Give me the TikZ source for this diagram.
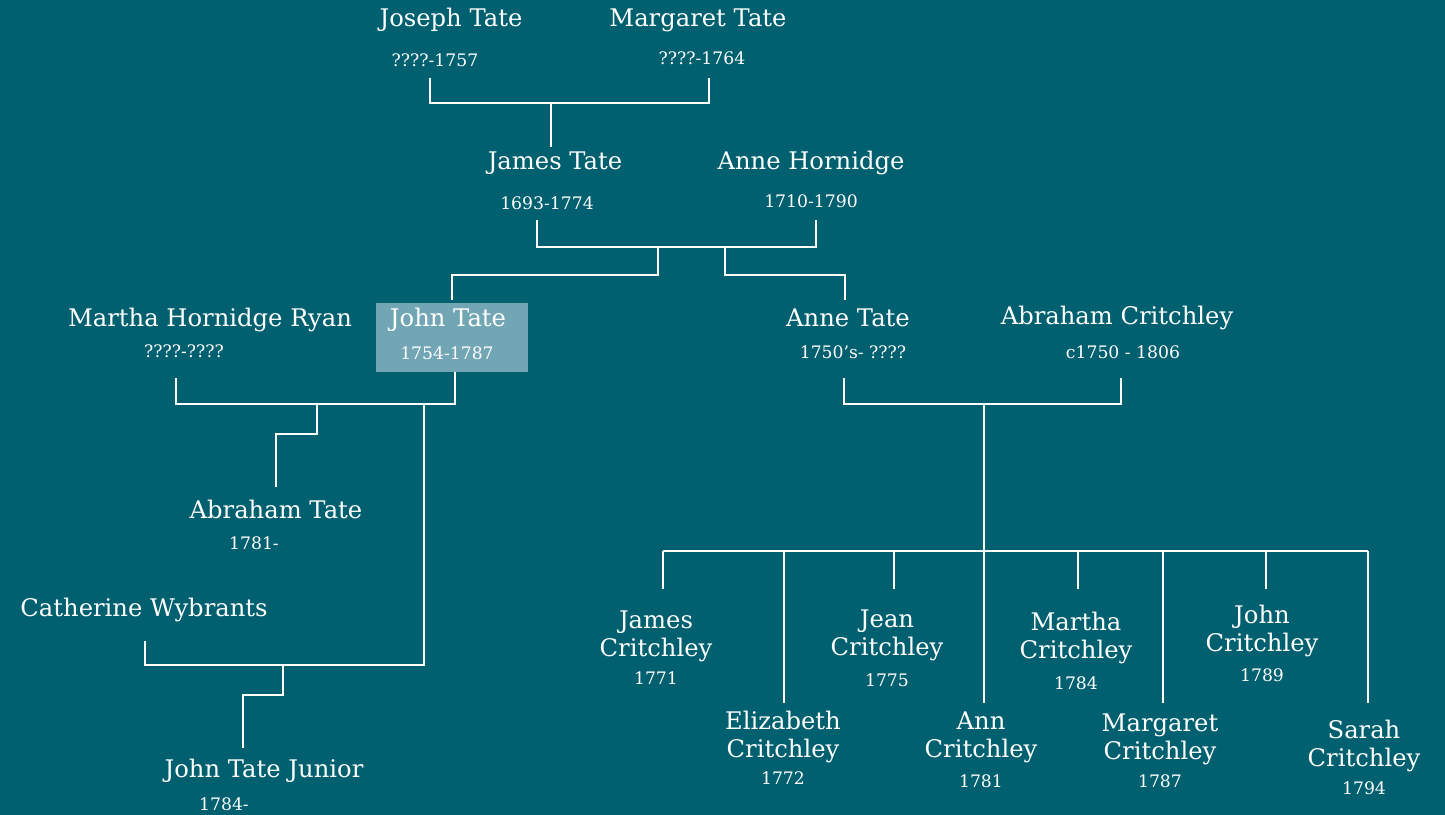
\documentclass[tikz,border=0pt]{standalone}
\usepackage{fontspec}
\setmainfont{DejaVu Serif}
\definecolor{bgteal}{HTML}{00606F}
\definecolor{highlight}{HTML}{72A6B4}
\tikzset{
  person/.style={text=white, font=\fontsize{13.8}{16}\selectfont, inner sep=0pt},
  yr/.style={text=white, font=\fontsize{9.8}{11}\selectfont, inner sep=0pt},
  kid/.style={text=white, font=\fontsize{13.8}{16}\selectfont, align=center, inner sep=0pt},
  link/.style={draw=white, line width=1.1pt},
}
\begin{document}
\begin{tikzpicture}[x=0.02cm, y=-0.02cm]
    \fill[bgteal] (0,0) rectangle (1445,815);
    \useasboundingbox (0,0) rectangle (1445,815);

    % Nodes
    \node[person] (JosephT) at (451,20) {Joseph Tate};
    \node[yr] (JosephY) at (435,60) {????-1757};
    \node[person] (MargT) at (698,20) {Margaret Tate};
    \node[yr] (MargY) at (702,58) {????-1764};

    \node[person] (JamesT) at (555,163) {James Tate};
    \node[yr] (JamesY) at (547,203) {1693-1774};
    \node[person] (AnneH) at (811,163) {Anne Hornidge};
    \node[yr] (AnneHY) at (811,201) {1710-1790};

    \fill[highlight] (376,303) rectangle (528,372);
    \node[person] (MarthaR) at (210,320) {Martha Hornidge Ryan};
    \node[yr] (MarthaRY) at (184,351) {????-????};
    \node[person] (JohnT) at (448,320) {John Tate};
    \node[yr] (JohnTY) at (447,353) {1754-1787};

    \node[person] (AnneT) at (848,318) {Anne Tate};
    \node[yr] (AnneTY) at (853,352) {1750’s- ????};
    \node[person] (AbrC) at (1117,318) {Abraham Critchley};
    \node[yr] (AbrCY) at (1123,352) {c1750 - 1806};

    \node[person] (AbrT) at (276,509) {Abraham Tate};
    \node[yr] (AbrTY) at (254,543) {1781-};
    \node[person] (CathW) at (144,610) {Catherine Wybrants};
    \node[person] (JohnJ) at (264,771) {John Tate Junior};
    \node[yr] (JohnJY) at (224,804) {1784-};

    \node[kid] (JamesC) at (656,636) {James\\Critchley};
    \node[yr] (JamesCY) at (656,678) {1771};
    \node[kid] (ElizC) at (783,737) {Elizabeth\\Critchley};
    \node[yr] (ElizCY) at (783,778) {1772};
    \node[kid] (JeanC) at (887,635) {Jean\\Critchley};
    \node[yr] (JeanCY) at (887,680) {1775};
    \node[kid] (AnnC) at (981,737) {Ann\\Critchley};
    \node[yr] (AnnCY) at (981,781) {1781};
    \node[kid] (MarthaC) at (1076,638) {Martha\\Critchley};
    \node[yr] (MarthaCY) at (1076,683) {1784};
    \node[kid] (MargC) at (1160,739) {Margaret\\Critchley};
    \node[yr] (MargCY) at (1160,781) {1787};
    \node[kid] (JohnC) at (1262,631) {John\\Critchley};
    \node[yr] (JohnCY) at (1262,675) {1789};
    \node[kid] (SarahC) at (1364,746) {Sarah\\Critchley};
    \node[yr] (SarahCY) at (1364,788) {1794};

    % Junctions
    \coordinate (gen1L) at (430,78);
    \coordinate (gen1R) at (709,78);
    \coordinate (gen1M) at (551,103);
    \coordinate (gen2L) at (537,220);
    \coordinate (gen2R) at (816,220);
    \coordinate (gen2a) at (658,247);
    \coordinate (gen2b) at (725,247);
    \coordinate (ryanL) at (176,378);
    \coordinate (ryanR) at (455,372);
    \coordinate (ryanM) at (317,404);
    \coordinate (wybM) at (424,404);
    \coordinate (wybL) at (145,641);
    \coordinate (wybJ) at (283,665);
    \coordinate (critL) at (844,378);
    \coordinate (critR) at (1121,378);
    \coordinate (critM) at (984,404);
    \coordinate (kidsL) at (663,551);
    \coordinate (kidsR) at (1368,551);

    % Lines
    \draw[link] (gen1L) |- (gen1M) -| (gen1R);
    \draw[link] (gen1M) -- (551,147);
    \draw[link] (gen2L) |- (gen2a) -| (gen2R);
    \draw[link] (gen2a) -- (658,275) -| (452,300);
    \draw[link] (gen2b) -- (725,275) -| (845,300);
    \draw[link] (ryanL) |- (ryanM) -| (ryanR);
    \draw[link] (ryanM) -- (317,434) -| (276,487);
    \draw[link] (wybM) |- (wybJ) -| (wybL);
    \draw[link] (wybJ) -- (283,695) -| (243,748);
    \draw[link] (critL) |- (critM) -| (critR);
    \draw[link] (critM) -- (984,551);
    \draw[link] (kidsL) -- (kidsR);
    \draw[link] (663,551) -- (663,589);
    \draw[link] (784,551) -- (784,703);
    \draw[link] (894,551) -- (894,589);
    \draw[link] (984,551) -- (984,703);
    \draw[link] (1078,551) -- (1078,589);
    \draw[link] (1163,551) -- (1163,703);
    \draw[link] (1266,551) -- (1266,589);
    \draw[link] (1368,551) -- (1368,703);

\end{tikzpicture}
\end{document}
